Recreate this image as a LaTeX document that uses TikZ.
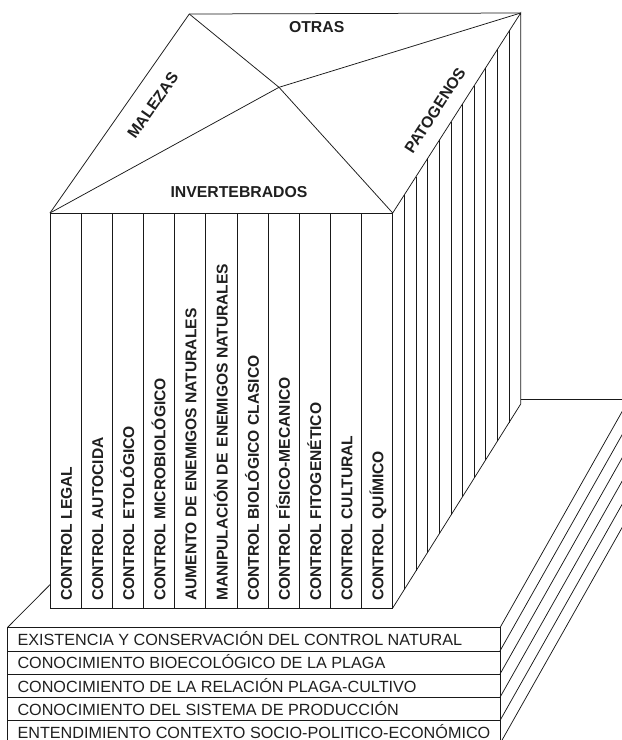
\documentclass[tikz,border=0pt]{standalone}
\usepackage{fontspec}
\setmainfont{Liberation Sans}
\newfontfamily\heavysans{Liberation Sans}[UprightFeatures={FakeBold=1.2}]
\usetikzlibrary{calc}
\begin{document}
\begin{tikzpicture}[x=1pt,y=-1pt,
  edge/.style={draw=black!90, line width=0.75pt},
  colname/.style={rotate=90, anchor=base west, inner sep=0pt,
    font=\heavysans\bfseries\fontsize{15.6}{16}\selectfont, text=black!88},
  roofname/.style={inner sep=0pt, font=\heavysans\bfseries\fontsize{15.8}{16}\selectfont, text=black!88},
  layername/.style={anchor=base west, inner sep=0pt,
    font=\fontsize{16.2}{17}\selectfont, text=black!88}]
\useasboundingbox (0,0) rectangle (622,740);
\clip (0,0) rectangle (622,740);

% corner points of the building
\coordinate (A)  at (189.3,14);
\coordinate (B)  at (520.7,13);
\coordinate (C)  at (50,213);
\coordinate (D)  at (392.7,213);
\coordinate (P)  at (279,87.3);
\coordinate (Cb) at (50,608);
\coordinate (Db) at (392.7,608);
\coordinate (Bb) at (520.7,404);

% platform corners
\coordinate (Lf) at (7.3,627.7);
\coordinate (Lb) at (50,584.7);
\coordinate (Bh) at (520.7,399.3);
\coordinate (Bk) at (622,399.3);

% platform: hidden back edges
\draw[edge] (Lf) -- (Lb);
\draw[edge] (Bh) -- (Bk);

% stacked layers of the base
\foreach \j/\t in {0/EXISTENCIA Y CONSERVACIÓN DEL CONTROL NATURAL,
                   1/CONOCIMIENTO BIOECOLÓGICO DE LA PLAGA,
                   2/CONOCIMIENTO DE LA RELACIÓN PLAGA-CULTIVO,
                   3/CONOCIMIENTO DEL SISTEMA DE PRODUCCIÓN,
                   4/ENTENDIMIENTO CONTEXTO SOCIO-POLITICO-ECONÓMICO} {
  \coordinate (lt\j) at (7.3,{627.7+\j*23.2});
  \coordinate (rb\j) at (500,{627.7+(\j+1)*23.2});
  \coordinate (rt\j) at (500,{627.7+\j*23.2});
  \draw[edge] (lt\j) rectangle (rb\j);
  \node[layername] (lay\j) at (17.3,{627.7+(\j+1)*23.2-5.3}) {\t};
  \draw[edge] (rt\j) -- ++(140,-247.8);
}
\draw[edge] (rb4) -- ++(140,-247.8);

% front face with its eleven columns
\draw[edge] (C) rectangle (Db);
\foreach \k in {1,...,10}
  \draw[edge] ($(C)!\k/11!(D)$) -- ($(Cb)!\k/11!(Db)$);

\foreach \k/\t in {1/CONTROL LEGAL,
                   2/CONTROL AUTOCIDA,
                   3/CONTROL ETOLÓGICO,
                   4/CONTROL MICROBIOLÓGICO,
                   5/AUMENTO DE ENEMIGOS NATURALES,
                   6/MANIPULACIÓN DE\hspace{2pt} ENEMIGOS NATURALES,
                   7/CONTROL BIOLÓGICO CLASICO,
                   8/CONTROL FÍSICO-MECANICO,
                   9/CONTROL FITOGENÉTICO,
                   10/CONTROL CULTURAL,
                   11/CONTROL QUÍMICO}
  \node[colname] (col\k) at ($(Cb)!{(\k-0.5)/11}!(Db) + (6.3,-7)$) {\t};

% side face with vertical stripes
\draw[edge] (D) -- (B) -- (Bb) -- (Db);
\foreach \k in {1,...,10}
  \draw[edge] ($(D)!\k/11!(B)$) -- ($(Db)!\k/11!(Bb)$);

% roof
\draw[edge] (C) -- (A) -- (B);
\draw[edge] (A) -- (P) -- (D);
\draw[edge] (C) -- (P) -- (B);

\node[roofname] (otras) at (316.7,26.7) {OTRAS};
\node[roofname] (inv) at (239,191.7) {INVERTEBRADOS};
\node[roofname, rotate=55] (mal) at (152.8,105.5) {MALEZAS};
\node[roofname, rotate=57] (pat) at (435,110.5) {PATOGENOS};
\end{tikzpicture}
\end{document}
